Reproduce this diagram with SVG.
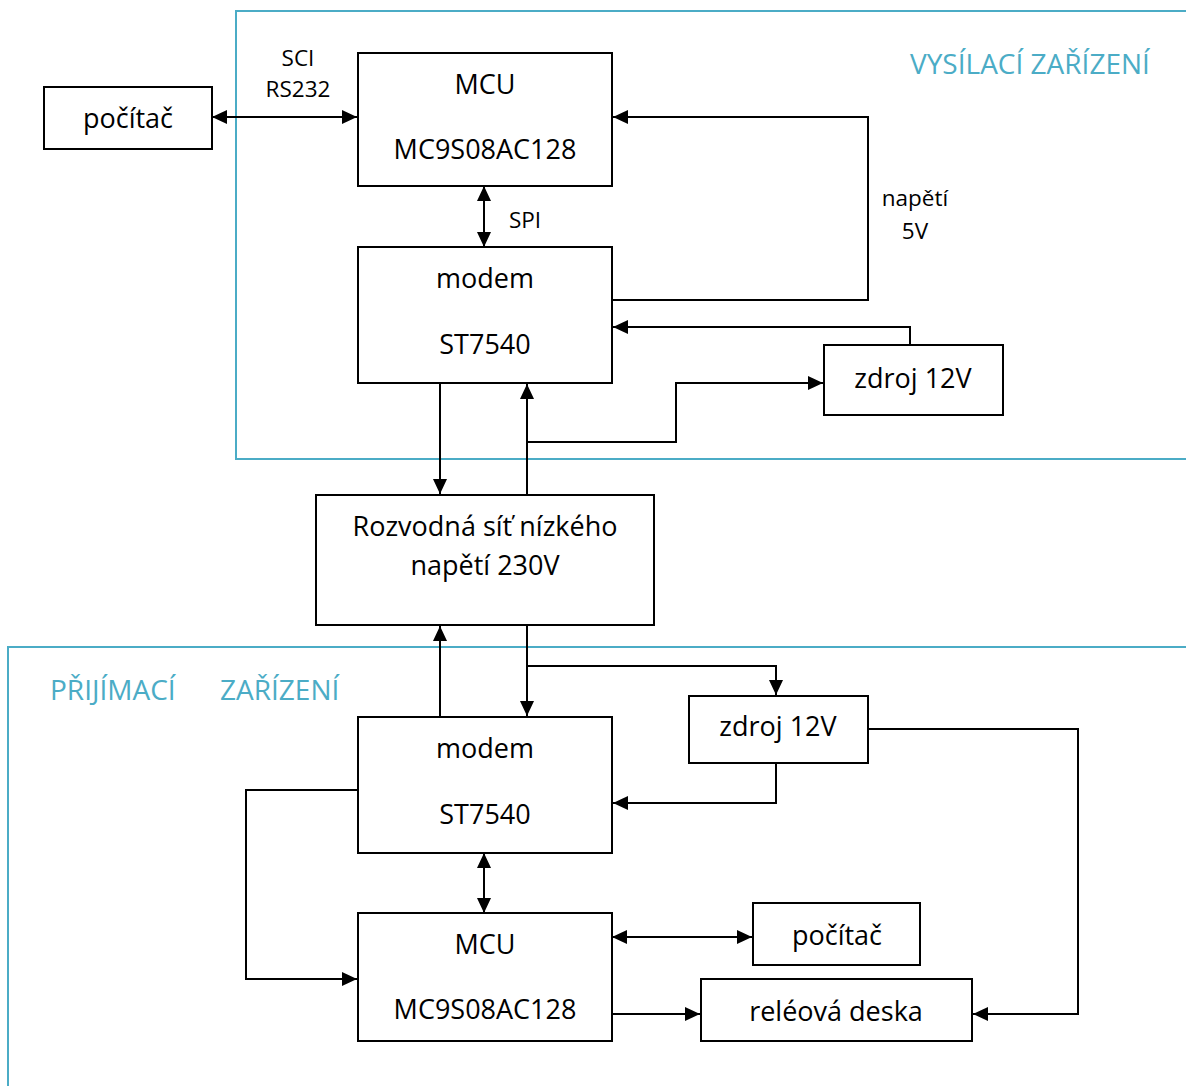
<svg xmlns="http://www.w3.org/2000/svg" width="1186" height="1086" viewBox="0 0 1186 1086">
<style>
.box{fill:#fff;stroke:#000;stroke-width:2}
.frame{fill:none;stroke:#4BACC6;stroke-width:2}
.t{font-family:"Open Sans","Liberation Sans",sans-serif;font-size:27px;fill:#000;text-anchor:middle}
.s{font-family:"Open Sans","Liberation Sans",sans-serif;font-size:22.5px;fill:#000;text-anchor:middle}
.f{font-family:"Open Sans","Liberation Sans",sans-serif;font-size:28px;fill:#4BACC6}
.c{fill:none;stroke:#000;stroke-width:2}
</style>
<defs>
<marker id="a" markerUnits="userSpaceOnUse" markerWidth="16" markerHeight="14" refX="15" refY="7" orient="auto-start-reverse" viewBox="0 0 16 14">
<path d="M0,0 L15,7 L0,14 z" fill="#000"/>
</marker>
</defs>
<rect width="1186" height="1086" fill="#fff"/>
<g id="frames">
<path class="frame" d="M1190,11 H236 V459 H1190"/>
<path class="frame" d="M1190,647 H8 V1090"/>
<text class="f" x="910" y="74">VYSÍLACÍ ZAŘÍZENÍ</text>
<text class="f" x="50" y="700">PŘIJÍMACÍ</text>
<text class="f" x="220" y="700">ZAŘÍZENÍ</text>
</g>
<g id="connectors">
<path class="c" d="M212,117 H357" marker-start="url(#a)" marker-end="url(#a)"/>
<path class="c" d="M484,186 V247" marker-start="url(#a)" marker-end="url(#a)"/>
<path class="c" d="M612,300 H868 V117 H613" marker-end="url(#a)"/>
<path class="c" d="M910,345 V327 H613" marker-end="url(#a)"/>
<path class="c" d="M440,383 V494" marker-end="url(#a)"/>
<path class="c" d="M527,495 V384" marker-end="url(#a)"/>
<path class="c" d="M527,442 H676 V383 H823" marker-end="url(#a)"/>
<path class="c" d="M440,717 V626" marker-end="url(#a)"/>
<path class="c" d="M527,625 V716" marker-end="url(#a)"/>
<path class="c" d="M527,666 H776 V695" marker-end="url(#a)"/>
<path class="c" d="M776,763 V803 H613" marker-end="url(#a)"/>
<path class="c" d="M868,729 H1078 V1014 H973" marker-end="url(#a)"/>
<path class="c" d="M358,790 H246 V979 H357" marker-end="url(#a)"/>
<path class="c" d="M484,853 V913" marker-start="url(#a)" marker-end="url(#a)"/>
<path class="c" d="M612,937 H752" marker-start="url(#a)" marker-end="url(#a)"/>
<path class="c" d="M612,1014 H700" marker-end="url(#a)"/>
<text class="s" x="298" y="66">SCI</text>
<text class="s" x="298" y="97">RS232</text>
<text class="s" x="525" y="228">SPI</text>
<text class="s" x="915" y="206">napětí</text>
<text class="s" x="915" y="239">5V</text>
</g>
<g id="pocitac1">
<rect class="box" x="44" y="87" width="168" height="62"/>
<text class="t" x="128" y="128">počítač</text>
</g>
<g id="mcu1">
<rect class="box" x="358" y="53" width="254" height="133"/>
<text class="t" x="485" y="94">MCU</text>
<text class="t" x="485" y="159">MC9S08AC128</text>
</g>
<g id="modem1">
<rect class="box" x="358" y="247" width="254" height="136"/>
<text class="t" x="485" y="288">modem</text>
<text class="t" x="485" y="354">ST7540</text>
</g>
<g id="zdroj1">
<rect class="box" x="824" y="345" width="179" height="70"/>
<text class="t" x="913" y="388">zdroj 12V</text>
</g>
<g id="sit">
<rect class="box" x="316" y="495" width="338" height="130"/>
<text class="t" x="485" y="536">Rozvodná síť nízkého</text>
<text class="t" x="485" y="575">napětí 230V</text>
</g>
<g id="modem2">
<rect class="box" x="358" y="717" width="254" height="136"/>
<text class="t" x="485" y="758">modem</text>
<text class="t" x="485" y="824">ST7540</text>
</g>
<g id="zdroj2">
<rect class="box" x="689" y="696" width="179" height="67"/>
<text class="t" x="778" y="736">zdroj 12V</text>
</g>
<g id="mcu2">
<rect class="box" x="358" y="913" width="254" height="128"/>
<text class="t" x="485" y="954">MCU</text>
<text class="t" x="485" y="1019">MC9S08AC128</text>
</g>
<g id="pocitac2">
<rect class="box" x="753" y="903" width="167" height="62"/>
<text class="t" x="837" y="945">počítač</text>
</g>
<g id="rele">
<rect class="box" x="701" y="979" width="271" height="62"/>
<text class="t" x="836" y="1021">reléová deska</text>
</g>
</svg>
